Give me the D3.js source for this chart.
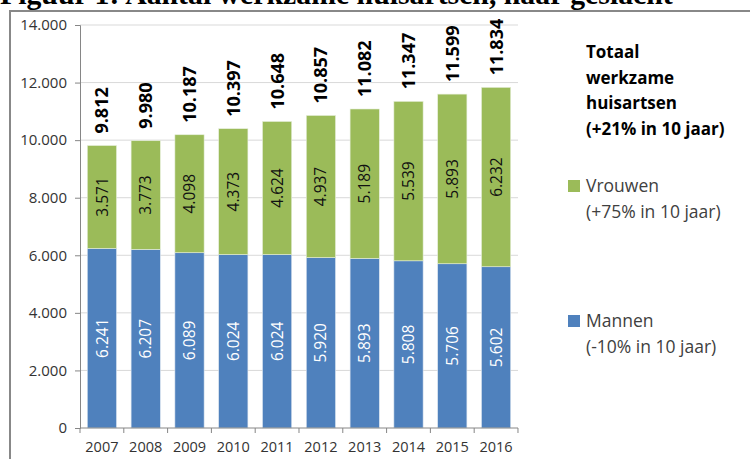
<!DOCTYPE html>
<html>
<head>
<meta charset="utf-8">
<script src="https://cdn.jsdelivr.net/npm/d3@7"></script>
<style>
  body { margin: 0; background: #fff; }
  svg { display: block; }
</style>
</head>
<body>
<svg id="chart" width="750" height="459"></svg>
<script>
// data
var years = ["2007", "2008", "2009", "2010", "2011", "2012", "2013", "2014", "2015", "2016"];
var mannen = [6241, 6207, 6089, 6024, 6024, 5920, 5893, 5808, 5706, 5602];
var vrouwen = [3571, 3773, 4098, 4373, 4624, 4937, 5189, 5539, 5893, 6232];
var totaal = [9812, 9980, 10187, 10397, 10648, 10857, 11082, 11347, 11599, 11834];
var yTicks = [0, 2000, 4000, 6000, 8000, 10000, 12000, 14000];

var blue = "#4f81bd", green = "#9bbb59";
var font = "'Open Sans', sans-serif";
var fmt = function(d) { return d3.format(",")(d).replace(/,/g, "."); };

var svg = d3.select("#chart");

// title, mostly cut off at the top
var title = svg.append("text")
  .attr("x", 0).attr("y", 4)
  .attr("font-family", "'Liberation Serif', serif")
  .attr("font-weight", "bold")
  .attr("font-size", 24)
  .attr("fill", "#000")
  .text("Figuur 1: Aantal werkzame huisartsen, naar geslacht");
var tl = title.node().getComputedTextLength();
title.attr("font-size", 24 * 673 / tl);

// chart frame
svg.append("rect")
  .attr("x", 10).attr("y", 11)
  .attr("width", 760).attr("height", 470)
  .attr("fill", "none")
  .attr("stroke", "#888")
  .attr("stroke-width", 2);

var plot = { left: 80, right: 518, top: 25, bottom: 428 };

var x = d3.scaleBand()
  .domain(years)
  .range([plot.left, plot.right])
  .paddingInner(0.333)
  .paddingOuter(0.1667);
var y = d3.scaleLinear().domain([0, 14000]).range([plot.bottom, plot.top]);

// gridlines
svg.append("g")
  .selectAll("line")
  .data(yTicks.filter(function(d) { return d > 0; }))
  .join("line")
  .attr("x1", plot.left).attr("x2", plot.right)
  .attr("y1", function(d) { return y(d); })
  .attr("y2", function(d) { return y(d); })
  .attr("stroke", "#d9d9d9")
  .attr("stroke-width", 1);

// y axis
var yAxis = svg.append("g")
  .attr("transform", "translate(" + plot.left + ",0)")
  .call(d3.axisLeft(y).tickValues(yTicks).tickSize(5).tickPadding(8).tickFormat(fmt));
yAxis.selectAll("path, line").attr("stroke", "#868686");
yAxis.selectAll("text")
  .attr("font-family", font).attr("font-size", 15).attr("fill", "#333");

// bars
var stack = years.map(function(yr, i) {
  return { year: yr, m: mannen[i], v: vrouwen[i], t: totaal[i] };
});

var g = svg.append("g");
g.selectAll("rect.m")
  .data(stack)
  .join("rect")
  .attr("class", "m")
  .attr("x", function(d) { return x(d.year); })
  .attr("width", x.bandwidth())
  .attr("y", function(d) { return y(d.m); })
  .attr("height", function(d) { return y(0) - y(d.m); })
  .attr("fill", blue)
  .attr("stroke", "#dde6f0").attr("stroke-width", 0.6);

g.selectAll("rect.v")
  .data(stack)
  .join("rect")
  .attr("class", "v")
  .attr("x", function(d) { return x(d.year); })
  .attr("width", x.bandwidth())
  .attr("y", function(d) { return y(d.m + d.v); })
  .attr("height", function(d) { return y(d.m) - y(d.m + d.v); })
  .attr("fill", green)
  .attr("stroke", "#e6eedb").attr("stroke-width", 0.6);

// x axis
svg.append("line")
  .attr("x1", plot.left).attr("x2", plot.right)
  .attr("y1", y(0)).attr("y2", y(0))
  .attr("stroke", "#868686");
svg.append("g")
  .selectAll("line")
  .data(d3.range(years.length + 1))
  .join("line")
  .attr("x1", function(i) { return plot.left + i * x.step(); })
  .attr("x2", function(i) { return plot.left + i * x.step(); })
  .attr("y1", y(0)).attr("y2", y(0) + 5)
  .attr("stroke", "#868686");
svg.append("g")
  .selectAll("text")
  .data(years)
  .join("text")
  .attr("x", function(d) { return x(d) + x.bandwidth() / 2; })
  .attr("y", 452)
  .attr("text-anchor", "middle")
  .attr("font-family", font).attr("font-size", 14.5).attr("fill", "#333")
  .text(function(d) { return d; });

// segment labels, rotated
function vlabel(sel, cls, val, mid, color, size, weight, anchor) {
  sel.selectAll("text." + cls)
    .data(stack)
    .join("text")
    .attr("class", cls)
    .attr("transform", function(d) {
      return "translate(" + (x(d.year) + x.bandwidth() / 2) + "," + mid(d) + ") rotate(-90)";
    })
    .attr("text-anchor", anchor)
    .attr("dy", "0.36em")
    .attr("font-family", font)
    .attr("font-size", size)
    .attr("font-weight", weight)
    .attr("fill", color)
    .text(function(d) { return fmt(val(d)); });
}
vlabel(g, "lm", function(d) { return d.m; }, function(d) { return y(d.m / 2); }, "#fff", 15.5, "normal", "middle");
vlabel(g, "lv", function(d) { return d.v; }, function(d) { return y(d.m + d.v / 2); }, "#111", 15.5, "normal", "middle");
vlabel(g, "lt", function(d) { return d.t; }, function(d) { return y(d.t) - 12; }, "#000", 18, "bold", "start");

// legend
var legend = svg.append("g").attr("font-family", font);
legend.selectAll("text.head")
  .data(["Totaal", "werkzame", "huisartsen", "(+21% in 10 jaar)"])
  .join("text")
  .attr("class", "head")
  .attr("x", 586)
  .attr("y", function(d, i) { return 58 + i * 25.7; })
  .attr("font-size", 17)
  .attr("font-weight", "bold")
  .attr("fill", "#000")
  .text(function(d) { return d; });

var items = [
  { color: green, lines: ["Vrouwen", "(+75% in 10 jaar)"], y: 192 },
  { color: blue, lines: ["Mannen", "(-10% in 10 jaar)"], y: 327 }
];
items.forEach(function(it) {
  legend.append("rect")
    .attr("x", 568).attr("y", it.y - 12)
    .attr("width", 12).attr("height", 12)
    .attr("fill", it.color);
  legend.selectAll(null)
    .data(it.lines)
    .join("text")
    .attr("x", 586)
    .attr("y", function(d, i) { return it.y + i * 26; })
    .attr("font-size", 17.5)
    .attr("fill", "#404040")
    .text(function(d) { return d; });
});
</script>
</body>
</html>
